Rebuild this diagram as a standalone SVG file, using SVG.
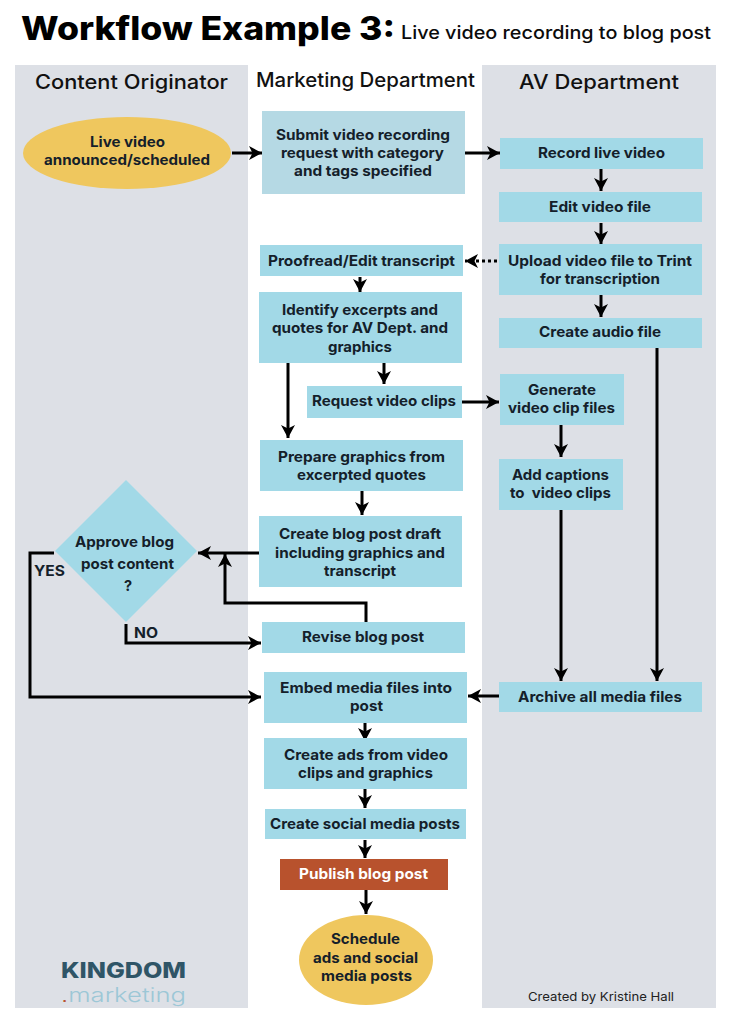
<svg xmlns="http://www.w3.org/2000/svg" width="730" height="1024" viewBox="0 0 730 1024">
<style>
text{font-family:"Inter","Open Sans","Liberation Sans",sans-serif;fill:#0b0b0b}
.t{font-size:14.5px;font-weight:700;fill:#14202a}
.h{font-size:20px;font-weight:500;fill:#111}
.n{fill:#a2d9e7}
.c{fill:none;stroke:#000;stroke-width:3;marker-end:url(#a)}
</style>
<defs><marker id="a" markerUnits="userSpaceOnUse" markerWidth="14" markerHeight="16" refX="13" refY="8" orient="auto"><path d="M0 1L13 8L0 15L3.5 8Z" fill="#000"/></marker></defs>
<rect width="730" height="1024" fill="#fff"/>
<g id="lanes"><rect x="15" y="65" width="233" height="943" fill="#dde0e6"/><rect x="482" y="65" width="234" height="943" fill="#dde0e6"/></g>
<g id="title"><text x="21" y="40" font-size="32" font-weight="800" textLength="374" lengthAdjust="spacingAndGlyphs" style="fill:#000">Workflow Example 3:</text><text x="401" y="39" font-size="18" font-weight="500" textLength="310" lengthAdjust="spacingAndGlyphs">Live video recording to blog post</text></g>
<g id="headers"><text class="h" x="35" y="89" textLength="193" lengthAdjust="spacingAndGlyphs">Content Originator</text><text class="h" x="256" y="87" textLength="219" lengthAdjust="spacingAndGlyphs">Marketing Department</text><text class="h" x="519" y="89" textLength="160" lengthAdjust="spacingAndGlyphs">AV Department</text></g>
<g id="connectors">
<path class="c" d="M232 153H262"/><path class="c" d="M465 153H500"/><path class="c" d="M601 169V191"/><path class="c" d="M601 223V244"/>
<path class="c" d="M497 261H465" stroke-dasharray="3 3"/><path class="c" d="M601 295V317"/><path class="c" d="M657 346V681"/><path class="c" d="M360 277V292"/>
<path class="c" d="M384 363V384"/><path class="c" d="M288 363V438"/><path class="c" d="M462 402H499"/><path class="c" d="M561 425V457"/><path class="c" d="M561 510V681"/>
<path class="c" d="M362 491V515"/><path class="c" d="M259 553H198"/><path class="c" d="M366 622V603H225V554"/><path class="c" d="M126 624V643H261"/><path class="c" d="M54 553H30V697H261"/>
<path class="c" d="M499 696H468"/><path class="c" d="M365 723V741"/><path class="c" d="M365 789V808"/><path class="c" d="M365 840V858"/><path class="c" d="M366 890V914"/>
</g>
<g id="live"><ellipse cx="127" cy="153" rx="104" ry="36" fill="#efc75e"/><text class="t" x="90" y="147" textLength="75" lengthAdjust="spacingAndGlyphs">Live video</text><text class="t" x="44" y="165" textLength="166" lengthAdjust="spacingAndGlyphs">announced/scheduled</text></g>
<g id="submit"><rect x="262" y="111" width="203" height="83" fill="#b5d9e4"/><text class="t" x="276" y="140" textLength="174" lengthAdjust="spacingAndGlyphs">Submit video recording</text><text class="t" x="281" y="158" textLength="163" lengthAdjust="spacingAndGlyphs">request with category</text><text class="t" x="294" y="176" textLength="138" lengthAdjust="spacingAndGlyphs">and tags specified</text></g>
<g id="record"><rect class="n" x="500" y="138" width="203" height="31"/><text class="t" x="538" y="158" textLength="127" lengthAdjust="spacingAndGlyphs">Record live video</text></g>
<g id="edit"><rect class="n" x="499" y="192" width="203" height="30"/><text class="t" x="549" y="212" textLength="102" lengthAdjust="spacingAndGlyphs">Edit video file</text></g>
<g id="upload"><rect class="n" x="499" y="244" width="203" height="51"/><text class="t" x="508" y="266" textLength="184" lengthAdjust="spacingAndGlyphs">Upload video file to Trint</text><text class="t" x="540" y="284" textLength="120" lengthAdjust="spacingAndGlyphs">for transcription</text></g>
<g id="audio"><rect class="n" x="499" y="318" width="203" height="30"/><text class="t" x="539" y="337" textLength="122" lengthAdjust="spacingAndGlyphs">Create audio file</text></g>
<g id="proofread"><rect class="n" x="260" y="245" width="203" height="31"/><text class="t" x="268" y="266" textLength="187" lengthAdjust="spacingAndGlyphs">Proofread/Edit transcript</text></g>
<g id="identify"><rect class="n" x="259" y="292" width="203" height="71"/><text class="t" x="282" y="315" textLength="156" lengthAdjust="spacingAndGlyphs">Identify excerpts and</text><text class="t" x="272" y="333" textLength="176" lengthAdjust="spacingAndGlyphs">quotes for AV Dept. and</text><text class="t" x="328" y="352" textLength="64" lengthAdjust="spacingAndGlyphs">graphics</text></g>
<g id="request"><rect class="n" x="307" y="386" width="155" height="32"/><text class="t" x="312" y="406" textLength="144" lengthAdjust="spacingAndGlyphs">Request video clips</text></g>
<g id="generate"><rect class="n" x="500" y="374" width="124" height="51"/><text class="t" x="528" y="395" textLength="68" lengthAdjust="spacingAndGlyphs">Generate</text><text class="t" x="508" y="413" textLength="107" lengthAdjust="spacingAndGlyphs">video clip files</text></g>
<g id="captions"><rect class="n" x="499" y="459" width="124" height="51"/><text class="t" x="512" y="480" textLength="97" lengthAdjust="spacingAndGlyphs">Add captions</text><text class="t" x="510" y="498" textLength="101" lengthAdjust="spacingAndGlyphs" xml:space="preserve">to  video clips</text></g>
<g id="prepare"><rect class="n" x="260" y="440" width="203" height="51"/><text class="t" x="278" y="462" textLength="167" lengthAdjust="spacingAndGlyphs">Prepare graphics from</text><text class="t" x="297" y="480" textLength="129" lengthAdjust="spacingAndGlyphs">excerpted quotes</text></g>
<g id="draft"><rect class="n" x="259" y="516" width="203" height="71"/><text class="t" x="279" y="539" textLength="162" lengthAdjust="spacingAndGlyphs">Create blog post draft</text><text class="t" x="275" y="558" textLength="170" lengthAdjust="spacingAndGlyphs">including graphics and</text><text class="t" x="324" y="576" textLength="72" lengthAdjust="spacingAndGlyphs">transcript</text></g>
<g id="approve"><path class="n" d="M126 480L197 551L126 622L55 551Z"/><text class="t" x="75" y="547" textLength="99" lengthAdjust="spacingAndGlyphs">Approve blog</text><text class="t" x="81" y="569" textLength="93" lengthAdjust="spacingAndGlyphs">post content</text><text class="t" x="124" y="591">?</text></g>
<text class="t" x="34" y="576" textLength="31" lengthAdjust="spacingAndGlyphs">YES</text><text class="t" x="134" y="638" textLength="24" lengthAdjust="spacingAndGlyphs">NO</text>
<g id="revise"><rect class="n" x="262" y="622" width="203" height="31"/><text class="t" x="302" y="642" textLength="122" lengthAdjust="spacingAndGlyphs">Revise blog post</text></g>
<g id="embed"><rect class="n" x="264" y="672" width="203" height="51"/><text class="t" x="280" y="693" textLength="172" lengthAdjust="spacingAndGlyphs">Embed media files into</text><text class="t" x="350" y="711" textLength="33" lengthAdjust="spacingAndGlyphs">post</text></g>
<g id="archive"><rect class="n" x="499" y="682" width="203" height="30"/><text class="t" x="518" y="702" textLength="164" lengthAdjust="spacingAndGlyphs">Archive all media files</text></g>
<g id="ads"><rect class="n" x="264" y="738" width="203" height="51"/><text class="t" x="284" y="760" textLength="164" lengthAdjust="spacingAndGlyphs">Create ads from video</text><text class="t" x="298" y="778" textLength="135" lengthAdjust="spacingAndGlyphs">clips and graphics</text></g>
<g id="social"><rect class="n" x="265" y="809" width="201" height="30"/><text class="t" x="270" y="829" textLength="190" lengthAdjust="spacingAndGlyphs">Create social media posts</text></g>
<g id="publish"><rect x="280" y="859" width="168" height="31" fill="#b8522d"/><text class="t" x="299" y="879" textLength="129" lengthAdjust="spacingAndGlyphs" style="fill:#fff">Publish blog post</text></g>
<g id="schedule"><ellipse cx="366" cy="960" rx="67" ry="45" fill="#efc75e"/><text class="t" x="331" y="944" textLength="69" lengthAdjust="spacingAndGlyphs">Schedule</text><text class="t" x="313" y="963" textLength="105" lengthAdjust="spacingAndGlyphs">ads and social</text><text class="t" x="321" y="981" textLength="91" lengthAdjust="spacingAndGlyphs">media posts</text></g>
<g id="logo"><text x="61" y="978" font-size="21" font-weight="800" textLength="125" lengthAdjust="spacingAndGlyphs" style="fill:#2f5567">KINGDOM</text><text x="61" y="1002" font-size="20" font-weight="300" textLength="125" lengthAdjust="spacingAndGlyphs" style="fill:#9cc7d6"><tspan style="fill:#b8522d">.</tspan>marketing</text></g>
<text x="528" y="1001" font-size="12" font-weight="400" textLength="146" lengthAdjust="spacingAndGlyphs" style="fill:#222">Created by Kristine Hall</text>
</svg>
